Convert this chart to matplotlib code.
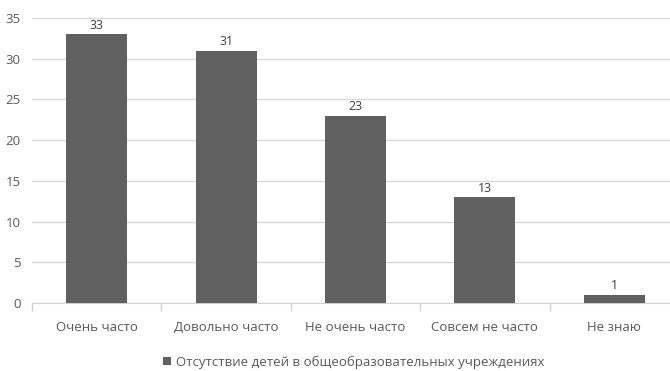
import numpy as np
import matplotlib.pyplot as plt

plt.rcParams['font.family'] = ['Open Sans', 'DejaVu Sans']

# Данные опроса
categories = ['Очень часто', 'Довольно часто', 'Не очень часто', 'Совсем не часто', 'Не знаю']
values = [33, 31, 23, 13, 1]
series_name = 'Отсутствие детей в общеобразовательных учреждениях'

W, H = 670, 371
fig = plt.figure(figsize=(W / 100, H / 100), dpi=100)
ax = fig.add_axes([32 / W, 68 / H, 647 / W, 285 / H])

x = np.arange(len(categories))
bars = ax.bar(x, values, width=0.47, color='#606060', label=series_name, zorder=3)

for b, v in zip(bars, values):
    ax.text(b.get_x() + b.get_width() / 2, v + 0.3, str(v), ha='center', va='bottom',
            fontsize=9, color='#404040')

ax.set_xlim(-0.5, len(categories) - 0.5)
ax.set_ylim(0, 35)
ax.set_yticks(range(0, 36, 5))
ax.yaxis.grid(True, color='#d9d9d9', linewidth=1)
ax.set_axisbelow(True)

# подписи категорий по центру, засечки на границах
ax.set_xticks(x)
ax.set_xticklabels(categories)
ax.set_xticks(np.arange(-0.5, len(categories), 1), minor=True)
ax.tick_params(axis='x', which='major', length=0, pad=13, labelsize=9.5, labelcolor='#595959')
ax.tick_params(axis='x', which='minor', length=6, color='#d0d0d0', width=1)
ax.tick_params(axis='y', length=0, pad=8, labelsize=9.5, labelcolor='#595959')

for s in ['top', 'right', 'left']:
    ax.spines[s].set_visible(False)
ax.spines['bottom'].set_color('#d0d0d0')

fig.legend(handles=[bars], labels=[series_name], loc='center', bbox_to_anchor=(354 / W, 1 - 362 / H),
           frameon=False, fontsize=9.5, labelcolor='#595959', handlelength=0.6, handleheight=0.6,
           handletextpad=0.4)

fig.savefig('out.png', dpi=100)
